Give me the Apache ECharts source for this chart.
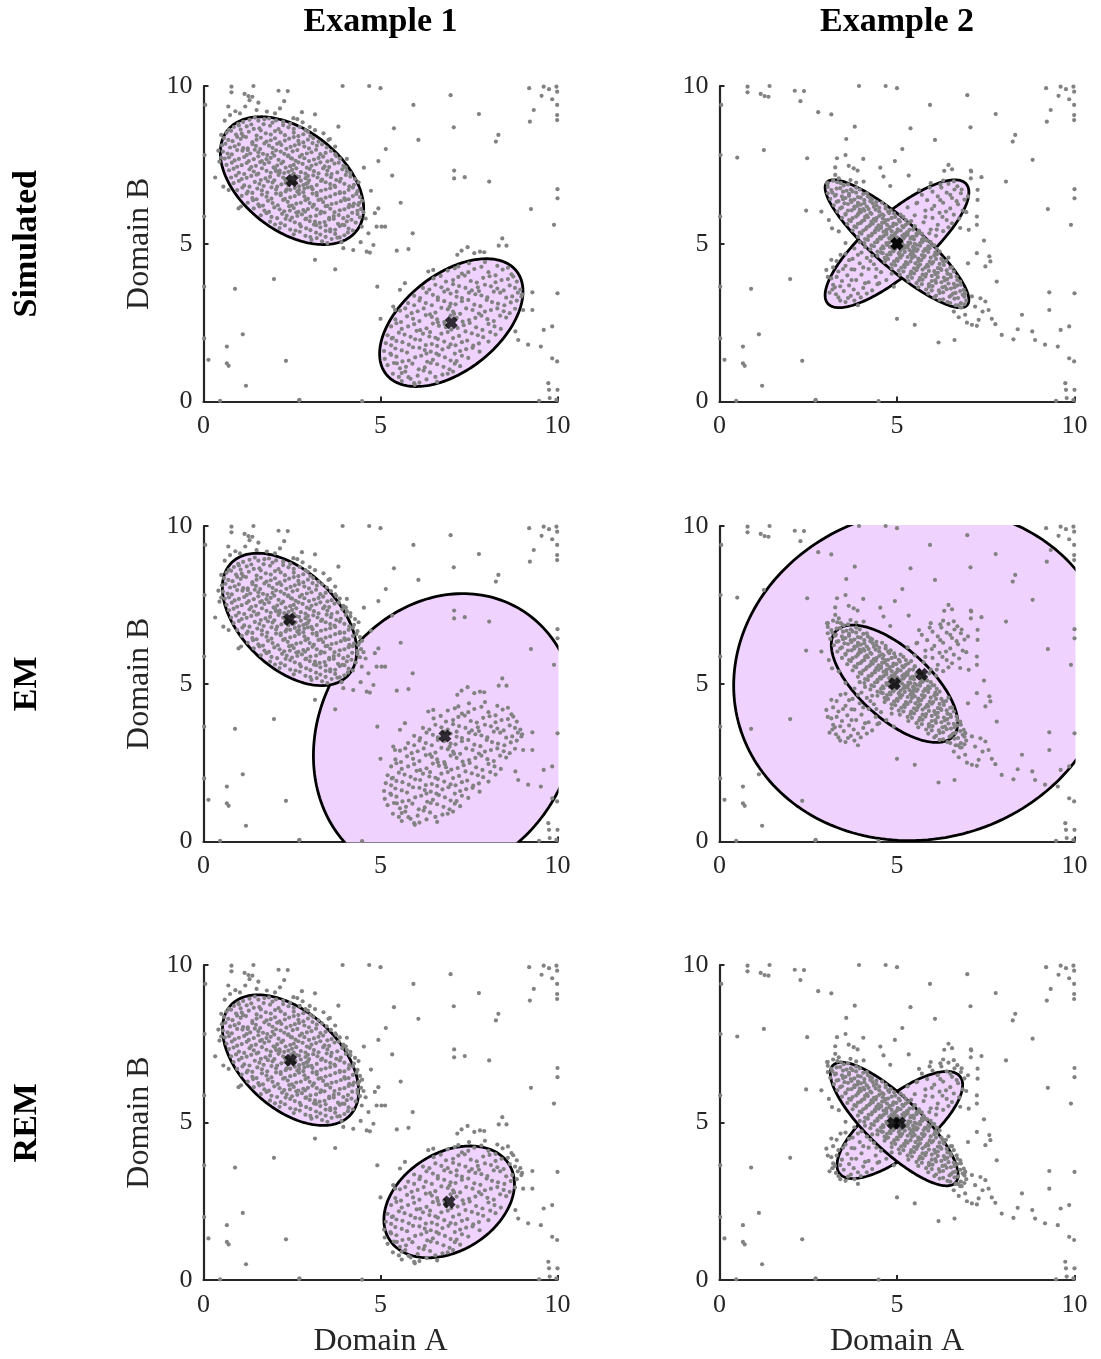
<!DOCTYPE html>
<html><head><meta charset="utf-8">
<script src="https://cdn.jsdelivr.net/npm/echarts@6/dist/echarts.min.js"></script>
<style>html,body{margin:0;padding:0;background:#fff}#chart{width:1101px;height:1359px}</style>
</head><body><div id="chart"></div>
<script>
// ---------- DATA ----------
const columnTitles = ['Example 1', 'Example 2'];
const rowTitles = ['Simulated', 'EM', 'REM'];
const tickValues = [0, 5, 10];
const xAxisName = 'Domain A';
const yAxisName = 'Domain B';

// background points shared by both examples
const noisePoints = [[0.79,9.98],[0.79,9.8],[1.16,9.75],[1.27,9.68],[1.38,9.66],[1.41,10.0],[2.12,9.85],[2.38,9.84],[2.28,9.52],[3.93,10.0],[4.68,10.0],[5.0,9.93],[6.98,9.71],[5.93,9.4],[7.78,9.11],[8.33,8.45],[8.26,8.24],[7.07,8.69],[5.38,8.66],[6.07,8.29],[5.15,8.0],[4.94,7.62],[4.53,7.41],[5.33,7.16],[7.08,7.32],[7.08,7.07],[7.38,7.11],[8.07,6.97],[9.25,6.1],[5.57,6.3],[9.2,9.93],[9.61,9.98],[9.76,9.9],[9.97,9.98],[9.99,9.82],[9.55,9.69],[9.85,9.58],[9.99,9.4],[9.99,9.08],[9.99,8.92],[9.33,9.24],[9.22,8.87],[10.0,6.73],[10.0,6.44],[9.9,5.6],[10.0,3.43],[9.61,2.27],[9.85,2.38],[9.53,1.74],[9.17,1.8],[9.85,1.37],[9.99,1.27],[9.74,0.58],[9.76,0.37],[10.0,0.37],[9.78,0.11],[9.97,0.05],[5.91,5.33],[5.46,4.78],[5.79,4.83],[4.91,3.64],[5.0,2.62],[1.99,3.88],[0.89,3.57],[1.11,2.13],[0.66,1.74],[0.66,1.21],[0.71,1.13],[0.14,1.32],[2.33,1.29],[1.2,0.5],[2.71,0.05],[0.05,9.4],[0.03,7.81],[3.72,4.19],[3.15,4.49],[8.81,2.22],[8.89,1.95],[9.29,3.46],[9.29,2.9],[3.81,8.71],[4.05,7.69],[2.78,9.17],[3.15,9.1],[0.47,0.02],[2.7,0.03],[4.48,0.01],[9.48,0.02],[0.02,5.86],[0.02,3.64],[0.02,2.0],[1.25,7.97],[0.5,7.73],[2.47,7.71],[3.57,8.32],[2.44,6.05],[2.87,6.02]];

// Example 1, cluster around (2.5, 7)
const ex1ClusterA = [[1.45,9.0],[1.72,8.95],[1.12,8.86],[1.55,8.9],[1.95,8.84],[2.25,8.87],[0.98,8.8],[1.35,8.78],[2.45,8.8],
[0.86,8.7],[1.22,8.72],[1.58,8.66],[1.88,8.74],[2.12,8.63],[2.4,8.69],[2.72,8.7],[1.05,8.62],[0.72,8.61],[2.88,8.6],
[0.65,8.52],[0.92,8.46],[1.28,8.55],[1.5,8.43],[1.76,8.5],[2.02,8.57],[2.3,8.44],[2.55,8.52],[2.82,8.47],[3.02,8.42],[1.12,8.41],
[0.58,8.35],[0.82,8.25],[1.05,8.32],[1.38,8.22],[1.62,8.36],[1.9,8.28],[2.15,8.21],[2.42,8.33],[2.68,8.26],[2.95,8.3],[3.25,8.24],[1.2,8.38],
[0.52,8.12],[0.75,8.05],[1.0,8.15],[1.25,8.02],[1.48,8.1],[1.72,8.18],[1.95,8.04],[2.2,8.13],[2.46,8.07],[2.7,8.16],[2.98,8.02],[3.2,8.11],[3.48,8.05],[1.6,8.0],
[0.55,7.92],[0.8,7.83],[1.1,7.95],[1.32,7.86],[1.55,7.9],[1.8,7.81],[2.05,7.96],[2.28,7.85],[2.52,7.93],[2.78,7.82],[3.05,7.9],[3.3,7.84],[3.6,7.94],[1.95,7.88],
[0.6,7.7],[0.88,7.64],[1.15,7.75],[1.42,7.68],[1.65,7.62],[1.9,7.72],[2.12,7.66],[2.38,7.78],[2.6,7.63],[2.85,7.71],[3.12,7.67],[3.38,7.76],[3.62,7.65],[3.85,7.7],[2.25,7.6],
[0.65,7.5],[0.95,7.44],[1.22,7.56],[1.48,7.47],[1.72,7.53],[1.98,7.42],[2.2,7.55],[2.45,7.46],[2.68,7.58],[2.92,7.41],[3.18,7.52],[3.42,7.45],[3.7,7.54],[3.95,7.47],[2.55,7.5],[1.85,7.58],
[0.72,7.33],[1.0,7.25],[1.3,7.36],[1.55,7.22],[1.78,7.31],[2.02,7.38],[2.28,7.24],[2.5,7.34],[2.75,7.27],[3.0,7.37],[3.25,7.23],[3.5,7.32],[3.78,7.26],[4.05,7.3],[2.4,7.28],[1.65,7.39],
[0.78,7.1],[1.08,7.05],[1.35,7.15],[1.62,7.02],[1.88,7.12],[2.12,7.18],[2.35,7.04],[2.62,7.14],[2.88,7.08],[3.1,7.17],[3.35,7.03],[3.6,7.11],[3.88,7.06],[4.15,7.13],[2.25,7.1],[2.75,7.0],
[0.85,6.92],[1.15,6.85],[1.45,6.96],[1.7,6.83],[1.95,6.94],[2.2,6.88],[2.45,6.97],[2.7,6.82],[2.95,6.93],[3.2,6.86],[3.45,6.95],[3.7,6.84],[3.98,6.9],[4.25,6.87],[2.55,6.9],[3.05,6.8],
[0.95,6.7],[1.25,6.65],[1.52,6.75],[1.8,6.62],[2.05,6.72],[2.32,6.66],[2.58,6.77],[2.82,6.63],[3.08,6.73],[3.32,6.68],[3.58,6.76],[3.85,6.64],[4.1,6.71],[4.35,6.67],[2.7,6.7],
[1.08,6.52],[1.38,6.45],[1.65,6.56],[1.92,6.43],[2.18,6.54],[2.45,6.47],[2.7,6.58],[2.95,6.42],[3.2,6.53],[3.45,6.46],[3.72,6.57],[3.98,6.44],[4.22,6.51],[4.42,6.48],[2.85,6.5],
[1.25,6.3],[1.55,6.25],[1.82,6.36],[2.1,6.22],[2.38,6.33],[2.62,6.27],[2.88,6.38],[3.12,6.24],[3.38,6.32],[3.62,6.26],[3.88,6.35],[4.12,6.23],[4.4,6.3],[3.0,6.29],
[1.42,6.12],[1.72,6.05],[2.0,6.15],[2.28,6.03],[2.55,6.13],[2.82,6.07],[3.08,6.17],[3.32,6.02],[3.58,6.11],[3.85,6.06],[4.1,6.16],[4.35,6.04],[3.2,6.09],
[1.62,5.9],[1.92,5.85],[2.22,5.95],[2.5,5.83],[2.78,5.93],[3.02,5.86],[3.3,5.96],[3.55,5.82],[3.82,5.91],[4.08,5.87],[4.35,5.94],[2.65,5.88],
[1.88,5.7],[2.18,5.65],[2.45,5.75],[2.72,5.62],[3.0,5.72],[3.28,5.66],[3.55,5.77],[3.8,5.63],[4.05,5.71],[4.3,5.67],[3.15,5.7],
[2.15,5.5],[2.45,5.45],[2.75,5.55],[3.02,5.43],[3.3,5.52],[3.58,5.46],[3.85,5.56],[4.1,5.48],[3.45,5.41],
[2.55,5.3],[2.88,5.25],[3.18,5.35],[3.45,5.22],[3.72,5.31],[3.98,5.27],
[3.05,5.12],[3.35,5.08],[3.62,5.15],[3.9,5.05],
[1.3,8.93],[1.85,8.97],[2.05,8.91],[1.0,8.75],[1.42,8.64],[1.7,8.79],[2.25,8.76],[2.55,8.64],
[0.78,8.58],[1.08,8.49],[1.62,8.59],[1.9,8.46],[2.18,8.53],[2.68,8.41],[2.95,8.55],
[0.7,8.29],[0.95,8.39],[1.5,8.3],[1.78,8.24],[2.02,8.34],[2.3,8.27],[2.55,8.38],[2.82,8.21],[3.1,8.35],
[0.62,8.17],[0.88,8.09],[1.12,8.03],[1.38,8.16],[1.85,8.11],[2.08,8.17],[2.34,8.01],[2.58,8.12],[2.85,8.08],[3.35,8.15],[3.08,8.19],
[0.68,7.86],[0.95,7.97],[1.22,7.81],[1.45,7.98],[1.68,7.85],[2.18,7.92],[2.4,7.8],[2.65,7.97],[2.92,7.86],[3.18,7.98],[3.45,7.88],[3.72,7.83],
[0.72,7.74],[1.0,7.69],[1.28,7.62],[1.55,7.77],[1.78,7.68],[2.0,7.79],[2.5,7.7],[2.72,7.76],[2.98,7.62],[3.25,7.72],[3.5,7.61],[3.75,7.78],
[0.8,7.57],[1.08,7.49],[1.35,7.43],[1.6,7.59],[2.08,7.48],[2.32,7.41],[2.8,7.53],[3.05,7.47],[3.3,7.58],[3.55,7.43],[3.82,7.57],[4.02,7.42],
[0.85,7.38],[1.15,7.21],[1.42,7.29],[1.9,7.25],[2.15,7.32],[2.62,7.39],[2.88,7.22],[3.12,7.3],[3.38,7.39],[3.62,7.21],[3.92,7.36],[4.15,7.24],
[0.92,7.16],[1.22,7.09],[1.5,7.19],[1.75,7.07],[2.0,7.01],[2.48,7.16],[2.98,7.01],[3.22,7.1],[3.48,7.19],[3.75,7.02],[4.02,7.18],[4.28,7.05],
[1.0,6.99],[1.3,6.81],[1.58,6.9],[1.82,6.98],[2.08,6.81],[2.32,6.93],[2.82,6.86],[3.32,6.99],[3.58,6.89],[3.85,6.97],[4.12,6.82],[4.38,6.95],
[1.1,6.78],[1.38,6.61],[1.65,6.69],[1.92,6.79],[2.18,6.6],[2.45,6.71],[2.95,6.79],[3.2,6.61],[3.45,6.72],[3.72,6.8],[3.98,6.62],[4.22,6.78],
[1.22,6.59],[1.5,6.41],[1.78,6.49],[2.05,6.59],[2.3,6.42],[2.58,6.51],[3.08,6.59],[3.32,6.41],[3.58,6.5],[3.85,6.6],[4.1,6.41],[4.32,6.58],
[1.4,6.38],[1.68,6.21],[1.95,6.29],[2.25,6.39],[2.5,6.21],[2.75,6.3],[3.25,6.39],[3.5,6.2],[3.75,6.29],[4.0,6.39],[4.25,6.27],[4.48,6.36],
[1.58,6.18],[1.85,6.01],[2.15,6.09],[2.42,6.19],[2.68,6.01],[2.95,6.1],[3.45,6.19],[3.7,6.0],[3.98,6.09],[4.22,6.19],[4.45,6.1],
[1.78,5.97],[2.08,5.81],[2.35,5.89],[2.62,5.99],[2.9,5.8],[3.18,5.89],[3.42,5.99],[3.68,5.88],[3.95,5.81],[4.2,5.98],[4.42,5.84],
[2.02,5.61],[2.32,5.79],[2.58,5.68],[2.88,5.78],[3.12,5.61],[3.42,5.69],[3.68,5.79],[3.92,5.6],[4.18,5.76],
[2.3,5.58],[2.6,5.42],[2.9,5.49],[3.18,5.59],[3.45,5.58],[3.72,5.44],[3.98,5.59],[4.22,5.42],
[2.72,5.38],[3.02,5.21],[3.3,5.29],[3.58,5.39],[3.85,5.2],[4.08,5.36],[3.2,5.18],[3.5,5.02],[3.78,5.19],
[2.3,7.05],[2.6,6.95],[2.4,6.85],[2.7,7.12],[2.15,7.25],[2.85,6.75],[2.55,7.22],[2.35,6.72],[2.95,7.15],[2.05,7.3],[2.65,6.65],[2.9,6.9],
[2.8,8.85],[3.0,8.7],[2.65,8.95],[0.45,7.6],[0.42,7.95],[0.5,8.45],[0.6,8.9],[0.9,9.2],[0.7,9.35],[1.3,9.55],
[1.18,9.35],[1.5,9.24],[1.79,9.19],[2.02,9.13],[2.16,9.29],[1.03,9.13],[0.75,9.08],[1.55,9.47],[2.54,8.98],[3.15,8.6],[3.39,8.5],[3.53,8.29],[3.72,8.08],
[0.33,7.1],[0.56,6.81],[0.71,6.7],[0.99,6.12],[1.06,6.18],
[4.47,5.54],[4.66,5.33],[4.89,5.54],[4.94,6.12],[4.84,5.97],[4.73,6.68],[4.37,6.23],[5.03,5.54],[5.13,5.54],[4.44,5.05],[4.61,4.75],[4.7,4.72],[4.8,4.96],[4.23,4.8],[3.95,4.86],[4.58,5.8],[4.52,6.0]];

// Example 1, cluster around (7, 2.5)
const ex1ClusterB = [[7.5,4.38],[7.95,4.42],[8.3,4.3],[7.2,4.28],
[6.9,4.15],[7.3,4.05],[7.65,4.2],[8.05,4.1],[8.45,4.18],[8.7,4.03],
[6.5,3.9],[6.85,3.8],[7.2,3.95],[7.55,3.82],[7.9,3.92],[8.25,3.78],[8.6,3.88],[8.85,3.8],
[6.2,3.6],[6.55,3.7],[6.9,3.55],[7.22,3.66],[7.58,3.52],[7.95,3.7],[8.3,3.58],[8.65,3.68],[8.95,3.55],[7.75,3.62],
[5.95,3.35],[6.3,3.45],[6.62,3.3],[6.98,3.42],[7.3,3.28],[7.68,3.4],[8.02,3.3],[8.38,3.45],[8.72,3.33],[9.0,3.4],[7.15,3.48],
[5.78,3.12],[6.1,3.2],[6.45,3.05],[6.8,3.18],[7.12,3.08],[7.48,3.22],[7.82,3.02],[8.15,3.15],[8.5,3.05],[8.85,3.2],[6.95,3.0],
[5.55,2.88],[5.88,2.8],[6.22,2.95],[6.55,2.82],[6.9,2.92],[7.25,2.78],[7.6,2.9],[7.95,2.85],[8.3,2.95],[8.65,2.8],[7.05,2.85],
[5.42,2.6],[5.75,2.7],[6.1,2.55],[6.45,2.68],[6.8,2.52],[7.15,2.65],[7.5,2.58],[7.85,2.72],[8.2,2.55],[8.55,2.66],[6.6,2.6],
[5.3,2.38],[5.6,2.3],[5.95,2.45],[6.3,2.32],[6.65,2.4],[7.0,2.28],[7.35,2.42],[7.7,2.35],[8.05,2.46],[8.4,2.3],[6.85,2.35],
[5.2,2.1],[5.52,2.18],[5.85,2.05],[6.2,2.15],[6.55,2.02],[6.9,2.2],[7.22,2.08],[7.58,2.16],[7.9,2.04],[8.25,2.12],[6.4,2.2],
[5.15,1.85],[5.45,1.92],[5.8,1.8],[6.12,1.95],[6.45,1.82],[6.8,1.9],[7.12,1.78],[7.45,1.93],[7.78,1.84],[8.05,1.9],[6.6,1.76],
[5.1,1.6],[5.42,1.68],[5.75,1.55],[6.1,1.7],[6.42,1.58],[6.75,1.65],[7.1,1.52],[7.42,1.66],[7.8,1.58],[6.3,1.52],
[5.12,1.35],[5.45,1.42],[5.8,1.3],[6.15,1.45],[6.48,1.32],[6.82,1.4],[7.15,1.28],[7.48,1.38],
[5.2,1.15],[5.55,1.05],[5.9,1.2],[6.25,1.08],[6.6,1.18],[6.95,1.02],[7.25,1.12],
[5.35,0.88],[5.7,0.95],[6.05,0.82],[6.4,0.92],[6.75,0.85],[7.05,0.95],
[5.6,0.65],[5.95,0.58],[6.3,0.7],[6.6,0.62],
[7.1,4.22],[7.48,4.1],[7.85,4.27],[8.25,4.0],[8.6,4.24],
[6.7,3.98],[7.05,3.85],[7.38,3.99],[7.72,3.77],[8.08,3.97],[8.42,3.85],[8.75,3.96],
[6.38,3.55],[6.72,3.62],[7.05,3.72],[7.4,3.6],[7.78,3.5],[8.12,3.65],[8.48,3.52],[8.8,3.6],
[6.12,3.28],[6.48,3.38],[6.8,3.48],[7.15,3.32],[7.5,3.45],[7.85,3.36],[8.2,3.48],[8.55,3.29],[8.88,3.45],
[5.95,3.05],[6.28,3.12],[6.62,3.22],[6.98,3.1],[7.3,3.18],[7.65,3.07],[8.0,3.22],[8.32,3.1],[8.68,3.14],
[5.7,2.95],[6.05,2.86],[6.4,2.76],[6.72,2.97],[7.08,2.78],[7.42,2.95],[7.78,2.79],[8.12,2.9],[8.48,2.86],[8.8,2.94],
[5.58,2.52],[5.92,2.62],[6.28,2.74],[6.62,2.51],[6.98,2.72],[7.32,2.53],[7.68,2.65],[8.02,2.61],[8.38,2.72],
[5.45,2.48],[5.78,2.38],[6.12,2.26],[6.48,2.47],[6.82,2.45],[7.18,2.33],[7.52,2.49],[7.88,2.27],[8.22,2.38],
[5.35,2.02],[5.68,2.12],[6.02,2.24],[6.38,2.06],[6.72,2.15],[7.05,2.01],[7.4,2.22],[7.75,2.1],[8.1,2.2],
[5.3,1.78],[5.62,1.88],[5.98,1.97],[6.28,1.79],[6.62,1.98],[6.98,1.81],[7.3,1.88],[7.62,1.77],
[5.28,1.52],[5.6,1.62],[5.92,1.72],[6.25,1.63],[6.58,1.52],[6.92,1.72],[7.25,1.6],[7.6,1.7],
[5.3,1.48],[5.62,1.27],[5.98,1.4],[6.32,1.26],[6.65,1.47],[6.98,1.3],[7.3,1.45],
[5.38,1.22],[5.72,1.1],[6.08,1.02],[6.42,1.22],[6.78,1.1],[7.1,1.2],
[5.52,0.78],[5.85,0.72],[6.22,0.98],[6.55,0.78],[6.9,0.88],[6.1,0.6],
[8.34,4.94],[8.56,4.94],[8.44,5.17],[7.93,4.73],[7.81,4.75],[7.65,4.7],[7.46,4.89],[7.29,4.78],[7.17,4.65],[6.49,4.17],[6.35,4.12],[5.69,3.75],[5.55,3.54],[5.36,3.01],[5.41,2.9],[5.32,2.0],[9.03,2.9],[8.98,3.33],[5.6,0.9],[5.79,0.77],[5.97,0.53],[5.46,1.21]];

// Example 2, elongated cluster around (5, 5) (negative correlation)
const ex2ClusterC = [[3.2,7.0],[3.32,6.95],[3.05,6.92],
[3.05,6.8],[3.3,6.75],[3.5,6.85],[3.7,6.72],[3.15,6.7],[3.85,6.78],
[3.05,6.6],[3.28,6.55],[3.48,6.65],[3.65,6.52],[3.85,6.62],[4.05,6.58],[3.58,6.68],[4.18,6.5],
[3.12,6.42],[3.35,6.35],[3.55,6.45],[3.72,6.32],[3.9,6.48],[4.08,6.38],[4.25,6.44],[4.42,6.33],[3.8,6.4],[3.45,6.5],
[3.22,6.22],[3.45,6.15],[3.62,6.26],[3.8,6.12],[3.98,6.24],[4.15,6.18],[4.32,6.28],[4.5,6.14],[4.68,6.2],[3.9,6.3],[4.05,6.1],
[3.32,6.02],[3.55,5.95],[3.72,6.06],[3.9,5.92],[4.08,6.05],[4.25,5.98],[4.4,6.08],[4.58,5.93],[4.75,6.02],[4.92,5.96],[4.15,5.9],[3.98,6.0],
[3.45,5.82],[3.65,5.75],[3.85,5.86],[4.02,5.72],[4.18,5.84],[4.35,5.78],[4.5,5.88],[4.68,5.74],[4.85,5.82],[5.05,5.76],[5.18,5.85],[4.28,5.7],[4.6,5.8],
[3.6,5.62],[3.8,5.55],[3.98,5.66],[4.15,5.52],[4.32,5.64],[4.48,5.58],[4.65,5.68],[4.8,5.53],[4.98,5.62],[5.15,5.56],[5.32,5.65],[4.42,5.5],[4.72,5.6],[4.55,5.54],
[3.75,5.42],[3.95,5.35],[4.12,5.46],[4.3,5.32],[4.48,5.44],[4.62,5.38],[4.78,5.48],[4.95,5.33],[5.1,5.42],[5.28,5.36],[5.45,5.45],[5.55,5.32],[4.7,5.3],[4.85,5.4],
[3.9,5.22],[4.1,5.15],[4.28,5.26],[4.45,5.12],[4.62,5.24],[4.78,5.18],[4.92,5.28],[5.08,5.13],[5.22,5.22],[5.38,5.16],[5.55,5.26],[5.7,5.12],[4.85,5.1],[5.0,5.2],[5.3,5.28],
[4.08,5.02],[4.28,4.95],[4.45,5.06],[4.6,4.92],[4.78,5.04],[4.92,4.98],[5.08,5.08],[5.22,4.93],[5.38,5.02],[5.55,4.96],[5.72,5.06],[5.88,4.92],[4.85,4.9],[5.15,5.0],[5.45,4.9],
[4.25,4.82],[4.45,4.75],[4.62,4.86],[4.8,4.72],[4.95,4.84],[5.1,4.78],[5.25,4.88],[5.42,4.73],[5.58,4.82],[5.75,4.76],[5.92,4.86],[6.08,4.72],[5.05,4.7],[5.35,4.8],
[4.45,4.62],[4.65,4.55],[4.82,4.66],[5.0,4.52],[5.15,4.64],[5.3,4.58],[5.45,4.68],[5.6,4.53],[5.78,4.62],[5.95,4.56],[6.12,4.66],[6.25,4.52],[5.5,4.6],
[4.65,4.42],[4.85,4.35],[5.02,4.46],[5.2,4.32],[5.38,4.44],[5.52,4.38],[5.68,4.48],[5.85,4.33],[6.02,4.42],[6.2,4.36],[6.38,4.45],[5.6,4.3],
[4.85,4.22],[5.05,4.15],[5.22,4.26],[5.4,4.12],[5.58,4.24],[5.72,4.18],[5.88,4.28],[6.05,4.13],[6.22,4.22],[6.4,4.16],[6.55,4.25],
[5.08,4.02],[5.3,3.95],[5.48,4.06],[5.65,3.92],[5.82,4.04],[5.98,3.98],[6.15,4.08],[6.32,3.93],[6.5,4.02],[6.68,3.96],
[5.32,3.82],[5.55,3.75],[5.72,3.86],[5.9,3.72],[6.08,3.84],[6.25,3.78],[6.42,3.88],[6.6,3.73],[6.78,3.8],
[5.6,3.62],[5.82,3.55],[6.0,3.66],[6.18,3.52],[6.35,3.64],[6.52,3.58],[6.7,3.68],[6.88,3.54],
[5.88,3.42],[6.1,3.35],[6.3,3.46],[6.48,3.32],[6.65,3.44],[6.85,3.38],
[6.2,3.22],[6.42,3.15],[6.62,3.26],[6.8,3.12],[6.95,3.2],
[6.65,3.05],[6.82,2.98],
[3.42,6.92],[3.62,6.88],[3.18,6.62],[3.4,6.76],[3.75,6.66],[3.95,6.72],
[3.25,6.52],[3.48,6.41],[3.65,6.58],[3.98,6.46],[4.15,6.6],[4.3,6.41],
[3.3,6.33],[3.52,6.28],[3.7,6.38],[3.88,6.2],[4.08,6.28],[4.25,6.35],[4.42,6.22],[4.58,6.3],
[3.4,6.12],[3.62,6.05],[3.8,6.18],[3.95,6.08],[4.2,6.1],[4.35,6.17],[4.5,6.02],[4.68,6.12],[4.82,6.06],
[3.55,5.92],[3.75,5.81],[3.92,5.97],[4.1,5.85],[4.28,5.95],[4.42,5.81],[4.62,5.9],[4.78,5.97],[4.95,5.85],[5.1,5.92],
[3.7,5.72],[3.9,5.63],[4.08,5.75],[4.25,5.6],[4.4,5.73],[4.58,5.66],[4.75,5.76],[4.9,5.64],[5.08,5.7],[5.25,5.6],[5.4,5.72],
[3.85,5.52],[4.05,5.42],[4.22,5.56],[4.38,5.41],[4.55,5.5],[4.7,5.44],[4.88,5.56],[5.02,5.46],[5.18,5.52],[5.35,5.44],[5.5,5.55],[5.62,5.42],
[4.0,5.32],[4.2,5.24],[4.38,5.36],[4.52,5.21],[4.7,5.35],[4.85,5.26],[5.0,5.38],[5.15,5.25],[5.3,5.35],[5.45,5.22],[5.62,5.34],[5.75,5.2],
[4.18,5.12],[4.38,5.04],[4.55,5.16],[4.7,5.02],[4.88,5.14],[5.02,5.05],[5.18,5.16],[5.32,5.04],[5.48,5.14],[5.65,5.02],[5.8,5.12],[5.95,5.05],
[4.35,4.92],[4.55,4.84],[4.72,4.96],[4.88,4.82],[5.02,4.94],[5.18,4.86],[5.32,4.97],[5.5,4.84],[5.65,4.94],[5.82,4.82],[6.0,4.95],[6.12,4.84],
[4.55,4.72],[4.72,4.64],[4.9,4.76],[5.08,4.62],[5.22,4.74],[5.38,4.66],[5.55,4.77],[5.7,4.64],[5.88,4.74],[6.05,4.63],[6.2,4.75],
[4.75,4.52],[4.92,4.44],[5.1,4.56],[5.25,4.42],[5.42,4.55],[5.6,4.45],[5.75,4.57],[5.92,4.43],[6.1,4.52],[6.3,4.44],[6.45,4.56],
[4.95,4.32],[5.12,4.24],[5.3,4.36],[5.48,4.22],[5.65,4.34],[5.8,4.25],[5.98,4.37],[6.15,4.23],[6.32,4.33],[6.5,4.24],
[5.18,4.12],[5.38,4.04],[5.55,4.16],[5.72,4.02],[5.9,4.14],[6.08,4.04],[6.25,4.17],[6.42,4.05],[6.6,4.12],
[5.42,3.92],[5.62,3.84],[5.8,3.96],[5.98,3.82],[6.15,3.94],[6.35,3.84],[6.52,3.95],[6.7,3.85],
[5.7,3.72],[5.9,3.64],[6.1,3.76],[6.28,3.62],[6.45,3.74],[6.62,3.62],[6.8,3.7],
[5.98,3.52],[6.2,3.44],[6.4,3.56],[6.58,3.42],[6.78,3.5],[6.92,3.44],
[6.05,3.3],[6.3,3.24],[6.52,3.36],[6.72,3.28],[6.9,3.32],[6.5,3.12],[6.72,3.05],[6.9,3.08],
[3.26,7.42],[3.31,7.71],[3.55,7.81],[3.64,7.47],[3.78,7.39],[3.89,7.32],[3.26,7.18],[3.36,7.07],[3.69,7.02],[3.85,6.94],[4.06,6.97],[4.62,7.13],[4.81,6.83],[3.03,6.92],[3.08,5.75],[3.17,5.49],[3.36,5.39],[3.55,5.02],[3.41,4.65],[3.01,4.17],
[6.74,2.67],[6.92,2.75],[6.97,2.5],[7.11,2.43],[7.25,2.4],[7.3,2.59],[7.41,2.85],[7.49,3.17],[7.35,3.27],[7.58,2.9],[7.67,2.62],[7.77,2.45],[7.95,2.11],[8.28,1.97],[8.4,2.29],[8.52,2.75],[7.81,3.8],[7.63,4.44],[7.49,4.28],[7.25,4.7],[7.0,4.38],[7.25,5.6],[7.25,5.86],[5.5,2.43],[6.17,1.87],[6.62,1.95],[6.92,3.43],[7.11,3.33],[7.2,3.01],[6.78,2.98],[6.6,2.85]];

// Example 2, broader cluster around (5, 5) (positive correlation)
const ex2ClusterD = [[6.45,6.9],[6.7,6.82],[6.25,6.78],[6.0,6.65],[6.4,6.62],[6.8,6.6],[5.7,6.55],[6.15,6.5],[6.55,6.45],[6.9,6.4],[5.85,6.38],[6.3,6.3],[6.72,6.25],[5.55,6.28],[6.05,6.2],[6.5,6.12],[5.3,6.15],[5.8,6.05],[6.2,5.98],[6.6,5.92],[5.5,5.9],[6.0,5.82],[6.4,5.75],[5.25,5.75],[5.75,5.68],[6.15,5.6],[6.55,5.65],[5.5,5.55],[5.95,5.45],[6.3,5.4],[5.7,5.32],[6.1,5.25],[5.4,5.2],[5.85,5.1],[6.05,4.95],[6.85,6.05],[6.62,6.72],[5.95,6.92],[6.3,7.0],[5.62,6.7],[7.0,6.5],[6.95,6.0],[6.78,5.5],
[5.92,6.78],[6.22,6.88],[6.6,6.98],[6.82,6.72],[6.5,6.55],[6.22,6.38],[6.68,6.35],[5.98,6.1],[6.38,6.02],[6.75,5.8],[6.28,5.85],[5.8,5.85],[6.45,5.52],[6.12,5.45],
[3.55,3.15],[3.35,3.3],[3.7,3.35],[3.1,3.45],[3.5,3.5],[3.9,3.42],[3.25,3.62],[3.65,3.68],[4.05,3.6],[4.3,3.52],[3.45,3.82],[3.85,3.85],[4.2,3.78],[3.15,3.9],[3.6,4.0],[4.0,4.02],[4.4,3.95],[3.35,4.12],[3.8,4.18],[4.2,4.2],[4.55,4.1],[3.55,4.3],[3.95,4.38],[4.35,4.35],[3.3,4.45],[3.75,4.52],[4.15,4.55],[3.55,4.68],[4.0,4.72],[4.3,4.62],[3.8,4.85],[4.1,4.9],[3.95,5.05],[3.2,3.7],[4.45,3.72],[4.7,3.85],[4.85,4.05],[3.05,3.95],[3.4,3.2],[3.8,3.2],[3.9,3.05],
[3.28,3.4],[3.62,3.28],[3.98,3.3],[3.4,3.65],[3.78,3.55],[4.15,3.42],[3.3,3.95],[3.72,3.85],[4.1,3.75],[4.5,3.75],[3.48,4.2],[4.05,4.25],[4.42,4.2],[3.65,4.48],[3.2,4.25],[3.9,4.65],[4.25,4.45],[3.18,3.55],
[4.6,4.7],[5.2,5.3],[4.8,4.9],[5.1,5.05],[4.9,5.2],[5.3,4.9],[4.7,4.5],[5.5,5.0],
[6.33,7.31],[6.45,7.5],[6.55,7.36],[7.09,7.29],[7.27,6.71],[7.27,6.39],[7.02,5.44],[7.45,5.1],[7.6,4.6],[8.82,7.66]];

// fitted ellipses: [centre x, centre y, Sxx, Syy, Sxy]
const simEx1Ellipses = [[2.5, 7.0, 4.1, 4.1, -1.8], [7.0, 2.5, 4.1, 4.1, 2.0]];
const emEx1Ellipses  = [[6.82, 3.34, 13.8, 20.4, 2.3], [2.43, 7.04, 3.6, 4.4, -1.9]];
const remEx1Ellipses = [[2.46, 6.98, 3.7, 4.3, -1.9], [6.94, 2.48, 3.4, 3.15, 1.05]];
const simEx2Ellipses = [[5.0, 5.0, 4.1, 4.1, 3.3], [5.0, 5.0, 4.1, 4.1, -3.6]];
const emEx2Ellipses  = [[5.7, 5.3, 28.1, 27.8, 1.9], [4.93, 5.0, 3.17, 3.46, -2.2]];
const remEx2Ellipses = [[5.08, 4.92, 3.13, 2.89, 2.25], [4.92, 4.95, 3.24, 3.84, -2.9]];

// estimated component means
const simEx1Centers = [[2.5, 7.0], [7.0, 2.5]];
const emEx1Centers  = [[2.43, 7.04], [6.82, 3.34]];
const remEx1Centers = [[2.46, 6.98], [6.94, 2.48]];
const simEx2Centers = [[5.0, 5.0], [5.0, 5.0]];
const emEx2Centers  = [[4.93, 5.0], [5.7, 5.3]];
const remEx2Centers = [[4.89, 4.98], [5.08, 4.98]];

// ---------- CHART ----------
const ex1Points = ex1ClusterA.concat(ex1ClusterB, noisePoints);
const ex2Points = ex2ClusterC.concat(ex2ClusterD, noisePoints);

const panels = [
  { ell: simEx1Ellipses, ctr: simEx1Centers, pts: ex1Points },
  { ell: simEx2Ellipses, ctr: simEx2Centers, pts: ex2Points },
  { ell: emEx1Ellipses,  ctr: emEx1Centers,  pts: ex1Points },
  { ell: emEx2Ellipses,  ctr: emEx2Centers,  pts: ex2Points },
  { ell: remEx1Ellipses, ctr: remEx1Centers, pts: ex1Points },
  { ell: remEx2Ellipses, ctr: remEx2Centers, pts: ex2Points }
];
const colLeft = [203.5, 719.5];
const colWidth = [354, 355];
const rowTop = [86, 526, 965];
const rowHeight = 315.5;
const FONT = "'Liberation Serif', 'DejaVu Serif', serif";
const AX = '#262626';

const grids = [], xAxes = [], yAxes = [], series = [];
panels.forEach((p, i) => {
  const r = Math.floor(i / 2), c = i % 2;
  grids.push({ left: colLeft[c], top: rowTop[r], width: colWidth[c], height: rowHeight, containLabel: false });
  const common = {
    gridIndex: i, type: 'value', min: tickValues[0], max: tickValues[tickValues.length - 1], interval: 5,
    axisLine: { show: true, onZero: false, lineStyle: { color: AX, width: 2.2 } },
    axisTick: { show: true, inside: true, length: 5, lineStyle: { color: AX, width: 2 } },
    splitLine: { show: false },
    axisLabel: { fontSize: 26, fontFamily: FONT, color: AX },
    nameLocation: 'middle',
    nameTextStyle: { fontSize: 32, fontFamily: FONT, color: AX }
  };
  xAxes.push(Object.assign({}, common, {
    axisLabel: Object.assign({}, common.axisLabel, { margin: 12 }),
    name: r === 2 ? xAxisName : '', nameGap: 46
  }));
  yAxes.push(Object.assign({}, common, {
    axisLabel: Object.assign({}, common.axisLabel, { margin: 11 }),
    name: c === 0 ? yAxisName : '', nameGap: 48
  }));
  series.push({
    type: 'custom', xAxisIndex: i, yAxisIndex: i, z: 1, silent: true,
    data: p.ell, encode: { x: 0, y: 1 },
    renderItem: function (params, api) {
      const cx = api.value(0), cy = api.value(1), sxx = api.value(2), syy = api.value(3), sxy = api.value(4);
      const l11 = Math.sqrt(sxx), l21 = sxy / l11, l22 = Math.sqrt(syy - l21 * l21);
      const pts = [];
      for (let k = 0; k < 200; k++) {
        const t = k / 200 * 2 * Math.PI;
        pts.push(api.coord([cx + l11 * Math.cos(t), cy + l21 * Math.cos(t) + l22 * Math.sin(t)]));
      }
      const cs = params.coordSys;
      return {
        type: 'polygon', shape: { points: pts },
        style: { fill: '#EFD3FE', stroke: '#000000', lineWidth: 2.8 },
        clipPath: { type: 'rect', shape: { x: cs.x - 1, y: cs.y - 1, width: cs.width + 2, height: cs.height + 2 } }
      };
    }
  });
  series.push({
    type: 'scatter', xAxisIndex: i, yAxisIndex: i, z: 2, silent: true,
    data: p.pts, symbolSize: 4.2, itemStyle: { color: '#828282', opacity: 1 }
  });
  series.push({
    type: 'scatter', xAxisIndex: i, yAxisIndex: i, z: 3, silent: true,
    data: p.ctr, symbol: 'path://M0,3L3,0L5,2L7,0L10,3L8,5L10,7L7,10L5,8L3,10L0,7L2,5Z',
    symbolSize: 13, itemStyle: { color: '#000000' }
  });
});

const graphics = [];
columnTitles.forEach((t, c) => {
  graphics.push({ type: 'text', x: colLeft[c] + colWidth[c] / 2, y: 22, silent: true,
    style: { text: t, fontSize: 34, fontWeight: 'bold', fontFamily: FONT, fill: '#000',
      align: 'center', verticalAlign: 'middle', textAlign: 'center', textVerticalAlign: 'middle' } });
});
rowTitles.forEach((t, r) => {
  graphics.push({ type: 'text', x: 27, y: rowTop[r] + rowHeight / 2, rotation: Math.PI / 2, silent: true,
    style: { text: t, fontSize: 34, fontWeight: 'bold', fontFamily: FONT, fill: '#000',
      align: 'center', verticalAlign: 'middle', textAlign: 'center', textVerticalAlign: 'middle' } });
});

const chart = echarts.init(document.getElementById('chart'), null, { renderer: 'canvas' });
chart.setOption({
  animation: false,
  backgroundColor: '#ffffff',
  grid: grids, xAxis: xAxes, yAxis: yAxes, series: series, graphic: graphics
});
</script></body></html>
